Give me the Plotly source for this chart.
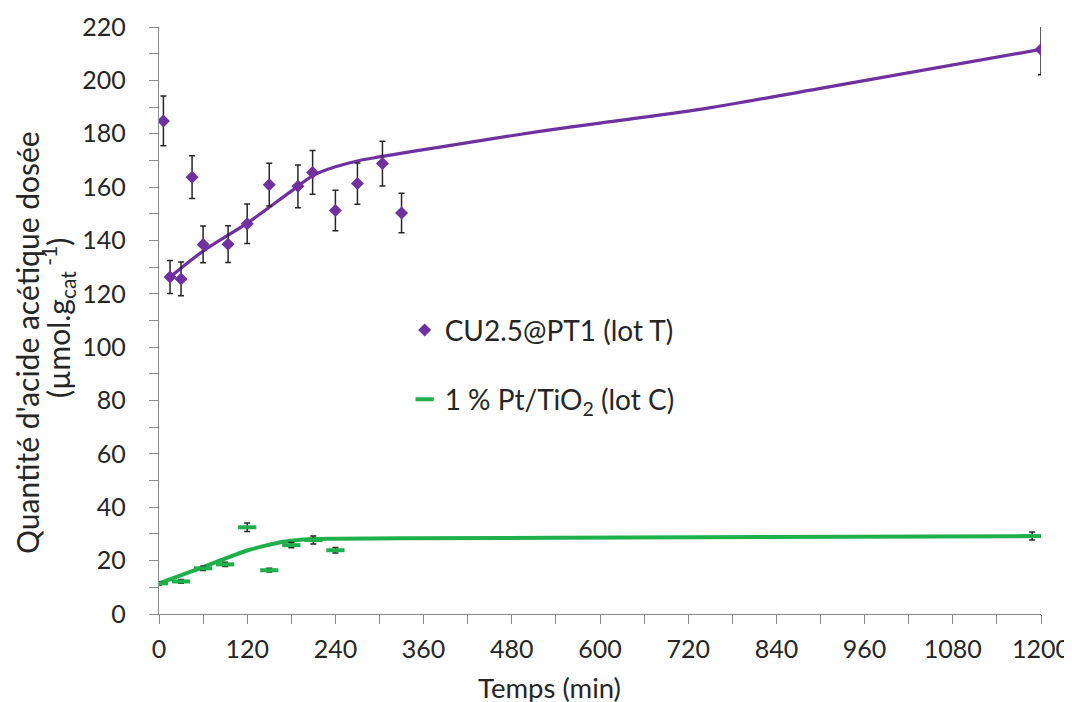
import plotly.graph_objects as go

# ---- data ----
cu_t = [6, 15, 30, 45, 60, 94, 120, 150, 189, 209, 240, 270, 304, 330, 1200]
cu_y = [184.8, 126.3, 125.6, 163.7, 138.5, 138.6, 146.3, 160.9, 160.3, 165.5, 151.2, 161.3, 168.8, 150.3, 211.6]
cu_err = [9.3, 6.2, 6.3, 8.0, 6.9, 6.9, 7.4, 8.0, 8.0, 8.2, 7.6, 7.7, 8.4, 7.4, 9.5]

pt_t = [0, 30, 60, 90, 120, 150, 180, 210, 240, 1188]
pt_y = [11.5, 12.2, 17.1, 18.6, 32.5, 16.4, 25.8, 27.7, 23.9, 29.2]
pt_err = [0.6, 0.7, 0.8, 0.8, 1.6, 0.7, 1.0, 1.5, 1.0, 1.5]

cu_fit_t = [15, 60, 120, 180, 210, 240, 270, 300, 382, 518, 600, 736, 900, 1200]
cu_fit_y = [126.3, 136.0, 146.5, 158.5, 164.4, 167.6, 169.8, 171.3, 175.0, 180.9, 184.0, 189.1, 197.0, 211.6]

pt_fit_t = [0, 60, 120, 169, 209, 240, 328, 736, 1188]
pt_fit_y = [11.5, 17.6, 23.8, 27.1, 28.1, 28.2, 28.35, 28.8, 29.2]

x_ticks = [0, 120, 240, 360, 480, 600, 720, 840, 960, 1080, 1200]
y_ticks = [0, 20, 40, 60, 80, 100, 120, 140, 160, 180, 200, 220]

x_title = "Temps (min)"
y_title_1 = "Quantité d'acide acétique dosée"
y_title_2 = "(µmol.g<sub>cat</sub><sup> -1</sup>)"

PURPLE = "#7030A0"
GREEN = "#1FAF4B"
FONT = "Lato"
AXC = "#8C8C8C"
TXT = "#262626"

fig = go.Figure()

fig.add_trace(go.Scatter(x=cu_fit_t, y=cu_fit_y, mode="lines",
                         line=dict(color=PURPLE, width=3.2, shape="spline", smoothing=0.8),
                         showlegend=False, hoverinfo="skip"))
fig.add_trace(go.Scatter(x=pt_fit_t, y=pt_fit_y, mode="lines",
                         line=dict(color=GREEN, width=4, shape="spline", smoothing=0.6),
                         showlegend=False, hoverinfo="skip"))

fig.add_trace(go.Scatter(
    x=cu_t, y=cu_y, mode="markers", name="CU2.5@PT1 (lot T)", legendgroup="a",
    marker=dict(symbol="diamond", size=10, color=PURPLE),
    error_y=dict(type="data", array=cu_err, color=TXT, thickness=1.5, width=3)))
fig.add_trace(go.Scatter(
    x=pt_t, y=pt_y, mode="markers", name="1 % Pt/TiO<sub>2</sub> (lot C)", legendgroup="b",
    marker=dict(symbol="line-ew", size=13, color=GREEN, line=dict(color=GREEN, width=4)),
    error_y=dict(type="data", array=pt_err, color=TXT, thickness=1.5, width=3)))

fig.update_layout(
    width=1072, height=702,
    paper_bgcolor="white", plot_bgcolor="white",
    margin=dict(l=151, r=39, t=19, b=96),
    font=dict(family=FONT, size=25, color=TXT),
    showlegend=True,
    legend=dict(x=0.2785, y=0.526, xanchor="left", yanchor="top", bgcolor="rgba(0,0,0,0)",
                font=dict(size=28), tracegroupgap=30, itemwidth=30),
    annotations=[
        dict(text=y_title_1, xref="paper", yref="paper", x=-0.1497, y=0.4634,
             xanchor="center", yanchor="middle", textangle=-90, showarrow=False,
             font=dict(size=30, color=TXT)),
        dict(text=y_title_2, xref="paper", yref="paper", x=-0.1145, y=0.5043,
             xanchor="center", yanchor="middle", textangle=-90, showarrow=False,
             font=dict(size=30, color=TXT)),
        dict(text=x_title, xref="paper", yref="paper", x=0.4433, y=-0.126,
             xanchor="center", yanchor="middle", showarrow=False,
             font=dict(size=27.5, color=TXT)),
    ],
)

fig.update_xaxes(
    range=[0, 1200], tickvals=x_ticks, ticktext=[str(v) for v in x_ticks], automargin=False,
    showgrid=False, zeroline=False, showline=True, linecolor=AXC, linewidth=1.3,
    ticks="outside", ticklen=9, tickcolor=AXC, tickwidth=1.3,
    minor=dict(dtick=60, ticks="outside", ticklen=9, tickcolor=AXC, tickwidth=1.3),
    tickfont=dict(size=25), ticklabelstandoff=4,
)
fig.update_yaxes(
    range=[0, 220], tickvals=y_ticks, ticktext=[str(v) for v in y_ticks], automargin=False,
    showgrid=False, zeroline=False, showline=True, linecolor=AXC, linewidth=1.3,
    ticks="outside", ticklen=9, tickcolor=AXC, tickwidth=1.3,
    minor=dict(dtick=10, ticks="outside", ticklen=9, tickcolor=AXC, tickwidth=1.3),
    tickfont=dict(size=25), ticklabelstandoff=18,
)

fig.write_html("out.html")
